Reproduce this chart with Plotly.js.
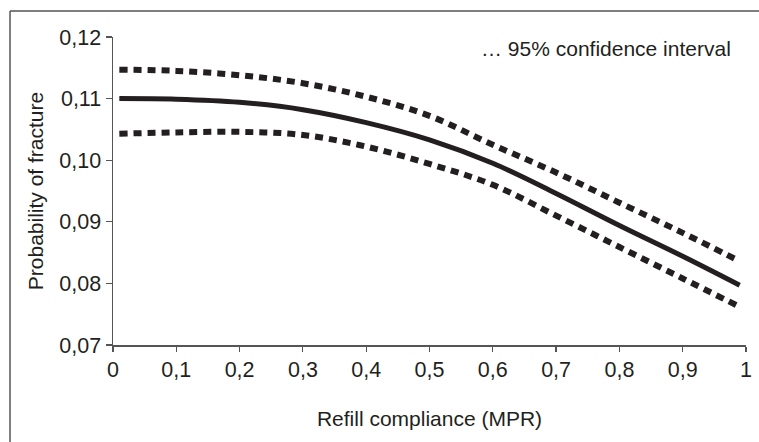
<!DOCTYPE html>
<html>
<head>
<meta charset="utf-8">
<script src="https://cdn.plot.ly/plotly-3.0.1.min.js"></script>
<style>html,body{margin:0;padding:0;background:#fff;}#chart{width:759px;height:442px;}</style>
</head>
<body>
<div id="chart"></div>
<script>
var mpr      = [0.01, 0.1, 0.2, 0.3, 0.4, 0.5, 0.6, 0.7, 0.8, 0.9, 0.99];
var estimate = [0.1100, 0.1099, 0.1094, 0.1082, 0.1061, 0.1033, 0.0995, 0.0946, 0.0894, 0.0844, 0.0797];
var upperCI  = [0.1147, 0.1145, 0.1138, 0.1125, 0.1103, 0.1072, 0.1025, 0.0980, 0.0931, 0.0882, 0.0836];
var lowerCI  = [0.1043, 0.1045, 0.1046, 0.1041, 0.1022, 0.0994, 0.0960, 0.0910, 0.0859, 0.0808, 0.0762];
var yTicks   = [0.07, 0.08, 0.09, 0.10, 0.11, 0.12];

var fam = '"Liberation Sans", Arial, Helvetica, sans-serif';
var ink = '#231f20';
var tickFont = {family: fam, size: 21.5, color: ink};
var titleFont = {family: fam, size: 21, color: ink};
var dashStyle = {color: ink, width: 6, dash: '8px,6px', shape: 'spline'};

var traces = [
  {x: mpr, y: upperCI, mode: 'lines', line: dashStyle, hoverinfo: 'skip'},
  {x: mpr, y: lowerCI, mode: 'lines', line: dashStyle, hoverinfo: 'skip'},
  {x: mpr, y: estimate, mode: 'lines', line: {color: ink, width: 5, shape: 'spline'}, hoverinfo: 'skip'}
];

var layout = {
  width: 759, height: 442,
  margin: {l: 113, r: 13, t: 37, b: 97},
  paper_bgcolor: '#fff', plot_bgcolor: '#fff',
  showlegend: false,
  separators: ', ',
  font: titleFont,
  xaxis: {
    range: [0, 1], dtick: 0.1, tick0: 0,
    showgrid: false, zeroline: false,
    showline: true, linecolor: '#555', linewidth: 1.5,
    ticks: 'outside', ticklen: 5, tickwidth: 1.2, tickcolor: '#555',
    tickfont: tickFont,
    title: {text: 'Refill compliance (MPR)', font: titleFont, standoff: 30}
  },
  yaxis: {
    range: [0.07, 0.12], tickvals: yTicks, tickformat: '.2f',
    showgrid: false, zeroline: false,
    showline: true, linecolor: '#555', linewidth: 1.5,
    ticks: 'outside', ticklen: 6, tickwidth: 1.2, tickcolor: '#555',
    tickfont: tickFont,
    title: {text: 'Probability of fracture', font: titleFont, standoff: 10}
  },
  annotations: [{
    xref: 'paper', yref: 'paper', x: 0.979, y: 0.964,
    xanchor: 'right', yanchor: 'middle', showarrow: false,
    text: '… 95% confidence interval', font: titleFont
  }],
  shapes: [
    {type: 'line', xref: 'paper', yref: 'paper', x0: -0.1627, x1: 1.05, y0: 1.0844, y1: 1.0844, line: {color: '#555', width: 1.5}},
    {type: 'line', xref: 'paper', yref: 'paper', x0: -0.1627, x1: -0.1627, y0: 1.0844, y1: -0.4, line: {color: '#555', width: 1.5}}
  ]
};

Plotly.newPlot('chart', traces, layout, {displayModeBar: false, staticPlot: true});
</script>
</body>
</html>
